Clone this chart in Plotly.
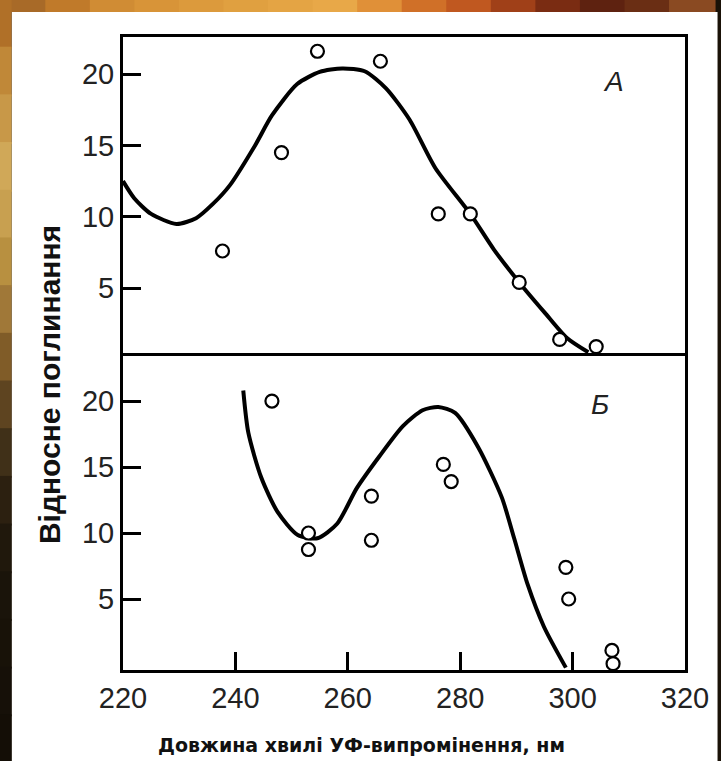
import plotly.graph_objects as go

# ---- data ----
# Panel A (top)
a_pts_x = [237.7, 248.2, 254.6, 265.8, 276.1, 281.8, 290.5, 297.7, 304.2]
a_pts_y = [7.6, 14.5, 21.6, 20.9, 10.2, 10.2, 5.4, 1.4, 0.9]
a_curve_x = [220, 222, 225, 229.5, 233, 236, 239, 243.5, 246.5, 251, 255, 259, 263,
             266.8, 271, 275.6, 281.8, 286, 290.5, 295, 299, 302.8]
a_curve_y = [12.5, 11.3, 10.2, 9.5, 9.9, 10.9, 12.2, 15.0, 17.1, 19.3, 20.15, 20.4, 20.2,
             19.0, 16.8, 13.4, 10.2, 7.7, 5.4, 3.3, 1.5, 0.5]

# Panel Б (bottom)
b_pts_x = [246.5, 253.0, 253.0, 264.2, 264.2, 277.0, 278.4, 298.8, 299.3, 307.0, 307.2]
b_pts_y = [20.0, 10.0, 8.75, 12.8, 9.45, 15.2, 13.9, 7.4, 5.0, 1.1, 0.1]
b_curve_x = [241.4, 242.3, 244.6, 247.5, 251.1, 254.6, 258.1, 261.6, 265.6, 269.8, 273.3,
             276.1, 279.1, 283.2, 287.4, 289.6, 292.0, 294.9, 298.8]
b_curve_y = [20.8, 17.6, 14.2, 11.6, 9.85, 9.6, 10.7, 13.4, 15.8, 18.1, 19.3,
             19.55, 19.1, 16.5, 12.7, 9.6, 6.1, 2.9, -0.2]

x_ticks = [220, 240, 260, 280, 300, 320]
x_tick_labels = ["220", "240", "260", "280", "300", "320"]
y_ticks = [5, 10, 15, 20]
y_tick_labels = ["5", "10", "15", "20"]

x_title = "Довжина хвилі УФ-випромінення, нм"
y_title = "Відносне поглинання"
label_a = "A"
label_b = "Б"

# ---- layout geometry (pixels) ----
W, H = 721, 761
L, R, T, B = 123, 693, 37, 670
MID = 353


def px(x):
    return (x - L) / (R - L)


def py(y):
    return (B - y) / (B - T)


split = (B - MID) / (B - T)

fig = go.Figure()

line_style = dict(color="black", width=4, shape="spline", smoothing=0.7)
marker_style = dict(symbol="circle", size=13, color="white",
                    line=dict(color="black", width=2.2))

fig.add_trace(go.Scatter(x=a_curve_x, y=a_curve_y, mode="lines", line=line_style,
                         xaxis="x2", yaxis="y2", showlegend=False, hoverinfo="skip"))
fig.add_trace(go.Scatter(x=a_pts_x, y=a_pts_y, mode="markers", marker=marker_style,
                         xaxis="x2", yaxis="y2", showlegend=False, cliponaxis=False))
fig.add_trace(go.Scatter(x=b_curve_x, y=b_curve_y, mode="lines", line=line_style,
                         xaxis="x", yaxis="y", showlegend=False, hoverinfo="skip"))
fig.add_trace(go.Scatter(x=b_pts_x, y=b_pts_y, mode="markers", marker=marker_style,
                         xaxis="x", yaxis="y", showlegend=False, cliponaxis=False))

axis_common = dict(showline=True, linecolor="black", linewidth=3,
                   showgrid=False, zeroline=False, ticks="inside", ticklen=18,
                   tickwidth=2.5, tickcolor="black")

xtick_font = dict(family="Liberation Sans, Arial, sans-serif", size=29, color="#222")
ytick_font = dict(family="Liberation Sans, Arial, sans-serif", size=29, color="#222")

fig.update_layout(
    width=W, height=H,
    margin=dict(l=L, r=W - R, t=T, b=H - B),
    paper_bgcolor="#1a1208",
    plot_bgcolor="white",
    xaxis=dict(axis_common, domain=[0, 1], range=[220, 320], anchor="y", mirror=False,
               tickvals=x_ticks, ticktext=x_tick_labels, tickfont=xtick_font),
    yaxis=dict(axis_common, domain=[0, split], range=[-0.38, 23.64], anchor="x",
               mirror=True, tickvals=y_ticks, ticktext=y_tick_labels,
               tickfont=ytick_font),
    xaxis2=dict(axis_common, domain=[0, 1], range=[220, 320], anchor="y2", mirror=True,
                showticklabels=False, ticks=""),
    yaxis2=dict(axis_common, domain=[split, 1], range=[0.45, 22.6], anchor="x2",
                mirror=True, tickvals=y_ticks, ticktext=y_tick_labels,
                tickfont=ytick_font),
)

# background frame: white page with a brown/orange slide border
shapes = [dict(type="rect", xref="paper", yref="paper", x0=px(10), x1=px(W + 5),
               y0=py(H + 5), y1=py(12), fillcolor="white", line_width=0, layer="below")]
top_colors = ["#a86a28", "#c07a2a", "#d08c34", "#d89438", "#dc9a3c", "#e0a040",
              "#e4a444", "#e8a848", "#e09038", "#d07028", "#c05820", "#a04018",
              "#7a2c12", "#5e2210", "#6a2e14", "#8a4a22"]
left_colors = ["#b07028", "#c08838", "#c89848", "#d0a858", "#c8a050", "#b89040",
               "#a07838", "#805c28", "#5e4420", "#403018", "#2c2010", "#20180c",
               "#1a140a", "#181208", "#161008", "#140e06"]
seg_w = (W + 2) / len(top_colors)
for i, c in enumerate(top_colors):
    shapes.append(dict(type="rect", xref="paper", yref="paper",
                       x0=px(i * seg_w - 1), x1=px((i + 1) * seg_w + 1),
                       y0=py(12), y1=py(-2), fillcolor=c, line_width=0, layer="below"))
seg_h = (H + 2) / len(left_colors)
for i, c in enumerate(left_colors):
    shapes.append(dict(type="rect", xref="paper", yref="paper",
                       x0=px(-2), x1=px(10),
                       y0=py((i + 1) * seg_h + 1), y1=py(i * seg_h - 1),
                       fillcolor=c, line_width=0, layer="below"))
fig.update_layout(shapes=shapes)

ann = dict(xref="paper", yref="paper", showarrow=False, xanchor="center", yanchor="middle")
fig.add_annotation(ann, text=label_a, x=px(620), y=py(82),
                   font=dict(family="Liberation Sans, Arial", size=28,
                             color="#222", style="italic"))
fig.add_annotation(ann, text=label_b, x=px(607), y=py(404),
                   font=dict(family="Liberation Sans, Arial", size=28,
                             color="#222", style="italic"))
fig.add_annotation(ann, text="<b>" + y_title + "</b>", x=px(48), y=py(385),
                   textangle=-90,
                   font=dict(family="Liberation Sans, Arial", size=30, color="#111"))
fig.add_annotation(ann, text="<b>" + x_title + "</b>", x=px(365), y=py(745),
                   font=dict(family="DejaVu Sans, Verdana", size=19, color="#111"))

fig.write_html("out.html", config={"displayModeBar": False},
               post_script="document.body.style.margin='0';"
               "document.body.style.overflow='hidden';")
